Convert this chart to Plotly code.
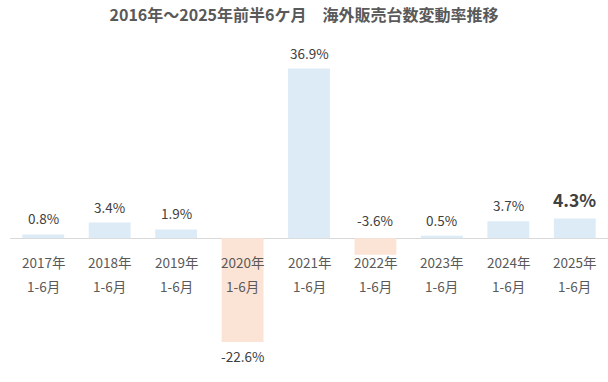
import plotly.graph_objects as go

years = ["2017年", "2018年", "2019年", "2020年", "2021年", "2022年", "2023年", "2024年", "2025年"]
period = "1-6月"
values = [0.8, 3.4, 1.9, -22.6, 36.9, -3.6, 0.5, 3.7, 4.3]
title = "2016年～2025年前半6ケ月　海外販売台数変動率推移"

POS = "#DDEBF7"
NEG = "#FBE3D5"
FONT = "Noto Sans CJK JP"

colors = [POS if v >= 0 else NEG for v in values]

fig = go.Figure()
fig.add_trace(go.Bar(x=years, y=values, marker=dict(color=colors, line=dict(width=0)),
                     hoverinfo="skip", width=0.63))

ann = []
for i, (yr, v) in enumerate(zip(years, values)):
    last = i == len(values) - 1
    fnt = dict(family=FONT, size=17.5 if last else 13.5, color="#404040")
    txt = f"<b>{v:.1f}%</b>" if last else f"{v:.1f}%"
    if v >= 0:
        ann.append(dict(x=yr, y=v, text=txt, showarrow=False, yanchor="middle",
                        yshift=19 if last else 16, font=fnt))
    elif v > -10:
        ann.append(dict(x=yr, y=0, text=txt, showarrow=False, yanchor="middle",
                        yshift=18, font=fnt))
    else:
        ann.append(dict(x=yr, y=v, text=txt, showarrow=False, yanchor="middle",
                        yshift=-14, font=fnt))
    cf = dict(family=FONT, size=13.5, color="#595959")
    ann.append(dict(x=yr, y=0, text=yr, showarrow=False, yanchor="middle",
                    yshift=-24, font=cf))
    ann.append(dict(x=yr, y=0, text=period, showarrow=False, yanchor="middle",
                    yshift=-48, font=cf))

fig.update_layout(
    width=608, height=382,
    margin=dict(l=10, r=0, t=36, b=6),
    paper_bgcolor="white", plot_bgcolor="white",
    showlegend=False,
    bargap=0.37,
    title=dict(text=f"<b>{title}</b>", x=0.5, xanchor="center", y=1 - 15 / 382,
               yanchor="middle",
               font=dict(family=FONT, size=16, color="#595959")),
    xaxis=dict(showticklabels=False, showgrid=False, showline=False, zeroline=False),
    yaxis=dict(range=[-30, 44], showticklabels=False, showgrid=False, showline=False,
               zeroline=True, zerolinecolor="#D9D9D9", zerolinewidth=1),
    annotations=ann,
)

fig.write_html("out.html", config={"displayModeBar": False},
               post_script="document.body.style.margin='0';")
